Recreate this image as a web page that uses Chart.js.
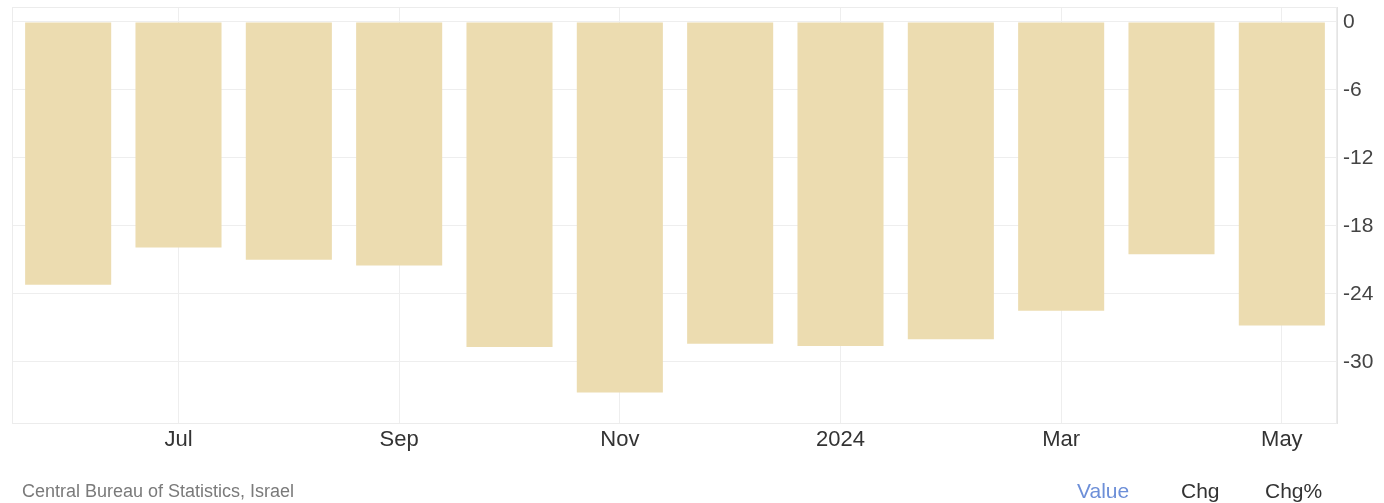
<!DOCTYPE html>
<html>
<head>
<meta charset="utf-8">
<script src="https://cdn.jsdelivr.net/npm/chart.js@4.4.1/dist/chart.umd.min.js"></script>
<style>
    html, body { margin: 0; padding: 0; background: #ffffff; }
    #wrap { position: relative; width: 1384px; height: 503px; font-family: "Liberation Sans", Arial, sans-serif; }
    #fuente { position: absolute; left: 22px; top: 481px; font-size: 18px; color: #7a7a7a; }
    .tab { position: absolute; top: 479px; font-size: 21px; color: #333333; }
</style>
</head>
<body>
<div id="wrap">
    <canvas id="balanzaChart" width="1384" height="503"></canvas>
    <div id="fuente">Central Bureau of Statistics, Israel</div>
    <div class="tab" style="left:1077px;color:#6d8fd8;">Value</div>
    <div class="tab" style="left:1181px;">Chg</div>
    <div class="tab" style="left:1265px;">Chg%</div>
</div>
<script>
//====================================
// DATOS
//====================================
const meses = ['Jun 2023', 'Jul 2023', 'Aug 2023', 'Sep 2023', 'Oct 2023', 'Nov 2023',
               'Dec 2023', 'Jan 2024', 'Feb 2024', 'Mar 2024', 'Apr 2024', 'May 2024'];
const valores = [-23.2, -19.9, -21.0, -21.5, -28.7, -32.7, -28.4, -28.6, -28.0, -25.5, -20.5, -26.8];
const etiquetasX = ['', 'Jul', '', 'Sep', '', 'Nov', '', '2024', '', 'Mar', '', 'May'];
const ticksY = [0, -6, -12, -18, -24, -30];

//====================================
// GRAFICO
//====================================
document.addEventListener('DOMContentLoaded', function () {
    const ctx = document.getElementById('balanzaChart');

    // Marco alrededor del area del grafico
    const marco = {
        id: 'marco',
        beforeDatasetsDraw(chart) {
            const a = chart.chartArea;
            const c = chart.ctx;
            c.save();
            c.strokeStyle = '#ececec';
            c.lineWidth = 1;
            c.strokeRect(a.left - 0.5, a.top + 0.5, a.right - a.left, a.bottom - a.top);
            c.restore();
        }
    };

    new Chart(ctx, {
        type: 'bar',
        data: {
            labels: meses,
            datasets: [{
                label: 'Value',
                data: valores,
                backgroundColor: '#ecdcb0',
                borderWidth: 0,
                barPercentage: 0.78,
                categoryPercentage: 1
            }]
        },
        options: {
            responsive: false,
            animation: false,
            layout: { padding: { left: 13, top: 7, right: 0, bottom: 40 } },
            plugins: { legend: { display: false }, tooltip: { enabled: false } },
            scales: {
                x: {
                    offset: true,
                    grid: {
                        offset: false,
                        drawTicks: false,
                        color: (c) => (c.index % 2 === 1 ? '#eeeeee' : 'rgba(0,0,0,0)')
                    },
                    border: { display: true, color: '#ececec' },
                    ticks: {
                        autoSkip: false,
                        maxRotation: 0,
                        padding: 4,
                        color: '#333333',
                        font: { family: 'Liberation Sans', size: 22 },
                        callback: (v, i) => etiquetasX[i]
                    },
                    afterFit: (scale) => {
                        scale.height = 40;
                        scale.paddingLeft = 0;
                        scale.paddingRight = 0;
                    }
                },
                y: {
                    position: 'right',
                    min: -35.4,
                    max: 1.32,
                    afterBuildTicks: (scale) => { scale.ticks = ticksY.map((v) => ({ value: v })); },
                    grid: { drawTicks: false, color: '#eeeeee' },
                    border: { display: true, color: '#e4e4e4' },
                    ticks: {
                        padding: 6,
                        color: '#444444',
                        font: { family: 'Liberation Sans', size: 21 }
                    },
                    afterFit: (scale) => {
                        scale.width = 47;
                        scale.paddingTop = 0;
                        scale.paddingBottom = 0;
                    }
                }
            }
        },
        plugins: [marco]
    });
});
</script>
</body>
</html>
